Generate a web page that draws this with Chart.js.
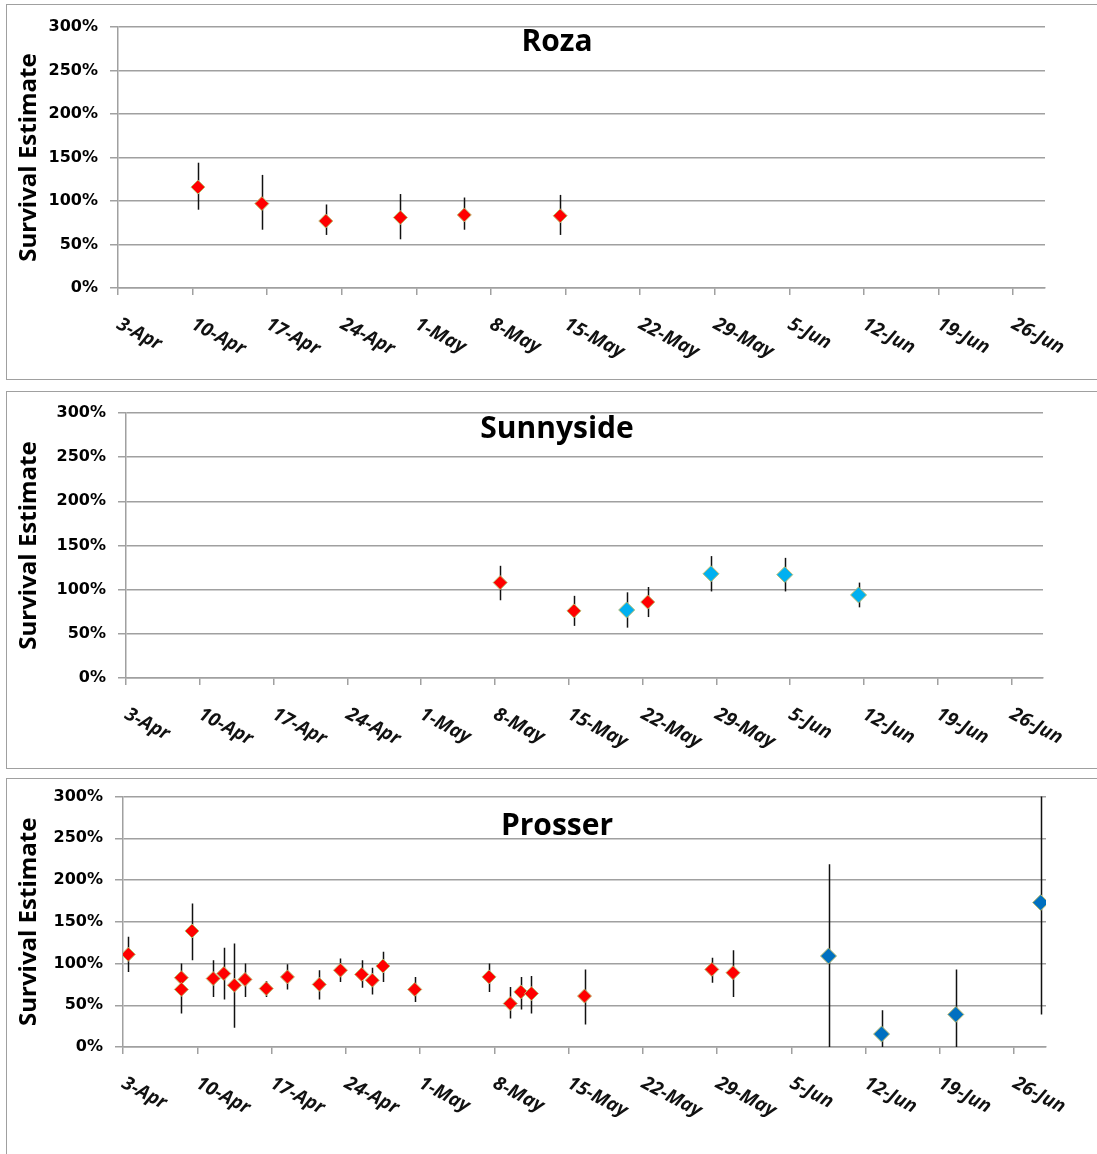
<!DOCTYPE html>
<html><head><meta charset="utf-8">
<script src="https://cdn.jsdelivr.net/npm/chart.js@4.4.0/dist/chart.umd.min.js"></script>
<style>
html,body{margin:0;padding:0;background:#fff;overflow:hidden;}
body{width:1097px;height:1154px;position:relative;}
.frame{position:absolute;left:6px;width:1200px;border:1px solid #a0a0a0;box-sizing:border-box;}
canvas{position:absolute;left:0;}
</style></head><body>
<div class="frame" style="top:4px;height:376px"></div>
<div class="frame" style="top:391px;height:378px"></div>
<div class="frame" style="top:778px;height:400px"></div>
<canvas id="c1" width="1097" height="385" style="top:0px"></canvas>
<canvas id="c2" width="1097" height="390" style="top:385px"></canvas>
<canvas id="c3" width="1097" height="379" style="top:775px"></canvas>
<script>
// ---- tick labels (x axis, one per week starting 3-Apr) ----
const weekLabels = ['3-Apr','10-Apr','17-Apr','24-Apr','1-May','8-May','15-May','22-May','29-May','5-Jun','12-Jun','19-Jun','26-Jun'];
const yTickValues = [0, 50, 100, 150, 200, 250, 300];

// ---- data: x = days after 3-Apr, values in percent ----
// Roza
const rozaDay  = [7.5, 13.5, 19.5, 26.5, 32.5, 41.5];
const rozaEst  = [116, 97, 77, 81, 84, 83];
const rozaLow  = [90, 67, 61, 56, 67, 61];
const rozaHigh = [144, 130, 96, 108, 104, 107];

// Sunnyside (red series)
const sunRedDay  = [35.5, 42.5, 49.5];
const sunRedEst  = [108, 76, 86];
const sunRedLow  = [88, 59, 69];
const sunRedHigh = [127, 93, 103];
// Sunnyside (light blue series)
const sunCyanDay  = [47.5, 55.5, 62.5, 69.5];
const sunCyanEst  = [77, 118, 117, 94];
const sunCyanLow  = [57, 98, 98, 80];
const sunCyanHigh = [97, 138, 136, 108];

// Prosser (red series)
const proRedDay  = [0.5, 5.5, 5.5, 6.5, 8.5, 9.5, 10.5, 11.5, 13.5, 15.5, 18.5, 20.5, 22.5, 23.5, 24.5, 27.5, 34.5, 36.5, 37.5, 38.5, 43.5, 55.5, 57.5];
const proRedEst  = [111, 83, 69, 139, 82, 88, 74, 81, 70, 84, 75, 92, 87, 80, 97, 69, 84, 52, 66, 64, 61, 93, 89];
const proRedLow  = [90, 70, 40, 104, 60, 57, 23, 60, 60, 69, 57, 78, 71, 63, 78, 54, 66, 34, 45, 40, 27, 77, 60];
const proRedHigh = [132, 100, 83, 172, 104, 119, 124, 100, 79, 99, 92, 106, 104, 95, 114, 84, 100, 72, 84, 85, 93, 107, 116];
// Prosser (dark blue series)
const proBlueDay  = [66.5, 71.5, 78.5, 86.5];
const proBlueEst  = [109, 15.5, 39, 173];
const proBlueLow  = [0, 0, 0, 39];
const proBlueHigh = [219, 44, 93, 300];

const RED = '#ff0000', CYAN = '#00b0f0', BLUE = '#0070c0';
const GRID = '#a0a0a0';

function series(day, est, low, high, color, radius) {
  return {
    data: day.map((d, i) => ({x: d, y: est[i]})),
    errLow: low, errHigh: high,
    backgroundColor: color,
    borderColor: '#b9bb6e',
    borderWidth: 1,
    pointStyle: 'rectRot',
    pointRadius: radius,
    showLine: false
  };
}

const errorBarPlugin = {
  id: 'errorBars',
  beforeDatasetsDraw(chart) {
    const {ctx, chartArea: a, scales: {x, y}} = chart;
    ctx.save();
    ctx.beginPath();
    ctx.rect(a.left, a.top - 1, a.right - a.left, a.bottom - a.top + 2);
    ctx.clip();
    ctx.strokeStyle = '#111';
    ctx.lineWidth = 1.5;
    chart.data.datasets.forEach(ds => {
      ds.data.forEach((p, i) => {
        const px = Math.round(x.getPixelForValue(p.x)) + 0.5;
        ctx.beginPath();
        ctx.moveTo(px, y.getPixelForValue(ds.errHigh[i]));
        ctx.lineTo(px, y.getPixelForValue(ds.errLow[i]));
        ctx.stroke();
      });
    });
    ctx.restore();
  }
};

const labelsPlugin = {
  id: 'extraText',
  afterDraw(chart, args, opts) {
    const {ctx, chartArea: a, scales: {x}} = chart;
    ctx.save();
    // rotated x tick labels
    ctx.fillStyle = '#111';
    ctx.font = 'italic bold 19px "Open Sans"';
    ctx.textAlign = 'left';
    ctx.textBaseline = 'middle';
    x.ticks.forEach((t, i) => {
      const px = x.getPixelForValue(t.value);
      ctx.save();
      ctx.translate(px, a.bottom + 35);
      ctx.rotate(28 * Math.PI / 180);
      ctx.fillText(weekLabels[i], 0, 0);
      ctx.restore();
    });
    // chart title
    ctx.fillStyle = '#000';
    ctx.font = 'bold 30px "Open Sans"';
    ctx.textAlign = 'center';
    ctx.textBaseline = 'alphabetic';
    ctx.fillText(opts.text, opts.cx, opts.baseline);
    ctx.restore();
  }
};

function makeChart(id, h, area, title, titleBaseline, datasets) {
  return new Chart(document.getElementById(id), {
    type: 'scatter',
    data: {datasets},
    plugins: [errorBarPlugin, labelsPlugin],
    options: {
      responsive: false,
      animation: false,
      events: [],
      layout: {padding: {left: 0, top: area.top, right: 1097 - area.right, bottom: 0}},
      plugins: {
        legend: {display: false},
        tooltip: {enabled: false},
        extraText: {text: title, cx: 557, baseline: titleBaseline}
      },
      scales: {
        x: {
          type: 'linear', min: 0, max: 87,
          afterFit(s) { s.height = h - area.bottom; },
          afterBuildTicks(s) { s.ticks = weekLabels.map((_, i) => ({value: i * 7})); },
          ticks: {display: false},
          grid: {drawOnChartArea: false, drawTicks: true, tickLength: 7, color: GRID, lineWidth: 1.5},
          border: {color: GRID, width: 1.5}
        },
        y: {
          min: 0, max: 300,
          afterFit(s) { s.width = area.left; },
          afterBuildTicks(s) { s.ticks = yTickValues.map(v => ({value: v})); },
          ticks: {
            callback: v => v + '%',
            color: '#000',
            padding: 12,
            font: {family: 'DejaVu Sans', weight: 'bold', size: 16}
          },
          grid: {color: GRID, lineWidth: 1.5, tickLength: 8},
          border: {color: GRID, width: 1.5},
          title: {
            display: true, text: 'Survival Estimate', color: '#000',
            font: {family: 'Open Sans', weight: 'bold', size: 24},
            padding: {top: 15, bottom: 0}
          }
        }
      }
    }
  });
}

makeChart('c1', 385, {left: 118, right: 1045, top: 27, bottom: 288}, 'Roza', 51, [
  series(rozaDay, rozaEst, rozaLow, rozaHigh, RED, 7)
]);
makeChart('c2', 390, {left: 126, right: 1043, top: 28, bottom: 293}, 'Sunnyside', 53, [
  series(sunRedDay, sunRedEst, sunRedLow, sunRedHigh, RED, 7),
  series(sunCyanDay, sunCyanEst, sunCyanLow, sunCyanHigh, CYAN, 8)
]);
makeChart('c3', 379, {left: 123, right: 1046, top: 21, bottom: 272}, 'Prosser', 60, [
  series(proRedDay, proRedEst, proRedLow, proRedHigh, RED, 7),
  series(proBlueDay, proBlueEst, proBlueLow, proBlueHigh, BLUE, 8)
]);
</script>
</body></html>
